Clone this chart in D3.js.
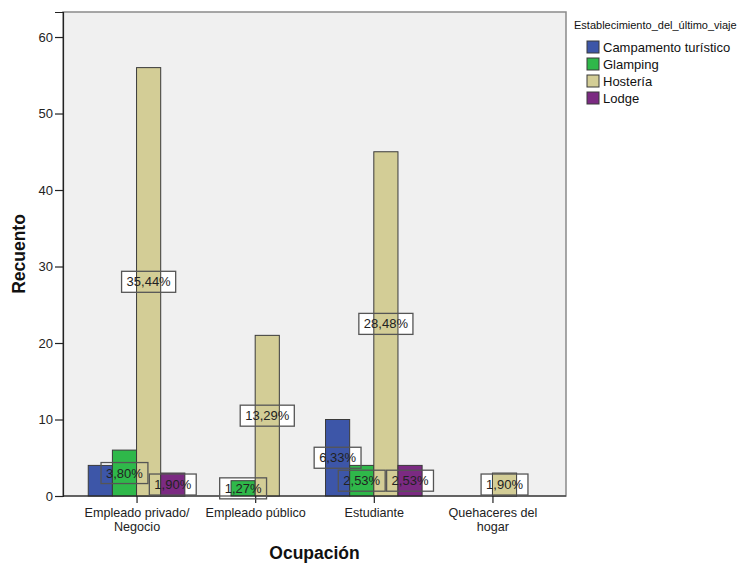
<!DOCTYPE html>
<html>
<head>
<meta charset="utf-8">
<script src="https://cdn.jsdelivr.net/npm/d3@7"></script>
<style>
  body { margin: 0; background: #fff; }
  svg { display: block; font-family: "Liberation Sans", Arial, sans-serif; }
</style>
</head>
<body>
<svg id="chart" width="741" height="568"></svg>
<script>
// ---- data ----
const categories = ["Empleado privado/ Negocio", "Empleado público", "Estudiante", "Quehaceres del hogar"];
const categoryLines = [["Empleado privado/", "Negocio"], ["Empleado público"], ["Estudiante"], ["Quehaceres del", "hogar"]];
const series = ["Campamento turístico", "Glamping", "Hostería", "Lodge"];
const campamentoCounts = [4, 0, 10, 0];
const glampingCounts   = [6, 2, 4, 0];
const hosteriaCounts   = [56, 21, 45, 3];
const lodgeCounts      = [3, 0, 4, 0];
const campamentoLabels = [null, null, "6,33%", null];
const glampingLabels   = ["3,80%", "1,27%", "2,53%", null];
const hosteriaLabels   = ["35,44%", "13,29%", "28,48%", "1,90%"];
const lodgeLabels      = ["1,90%", null, "2,53%", null];
const yTicks = [0, 10, 20, 30, 40, 50, 60];
const colors = ["#3d56a8", "#2fb84a", "#d3cd96", "#7b2a82"];
const legendTitle = "Establecimiento_del_último_viaje";
const xTitle = "Ocupación";
const yTitle = "Recuento";

const countsBySeries = [campamentoCounts, glampingCounts, hosteriaCounts, lodgeCounts];
const labelsBySeries = [campamentoLabels, glampingLabels, hosteriaLabels, lodgeLabels];

const marks = [];
series.forEach((s, si) => {
  categories.forEach((c, ci) => {
    marks.push({ series: s, si, category: c, value: countsBySeries[si][ci], label: labelsBySeries[si][ci] });
  });
});

// ---- layout ----
const plot = { left: 63, top: 12, right: 566, bottom: 496 };
const svg = d3.select("#chart");

const x = d3.scalePoint().domain(categories).range([plot.left, plot.right]).padding(0.62);
const xs = d3.scaleBand().domain(series).range([-48.3, 48.3]).padding(0);
const y = d3.scaleLinear().domain([0, 63.27]).range([plot.bottom, plot.top]);

// plot background & frame
svg.append("rect")
  .attr("x", plot.left).attr("y", plot.top)
  .attr("width", plot.right - plot.left).attr("height", plot.bottom - plot.top)
  .attr("fill", "#f0f0f0").attr("stroke", "#8a8a8a").attr("stroke-width", 1.5);

const drawn = marks.filter(d => d.value > 0);
const labeled = drawn.filter(d => d.label);
const fontSize = 13;

// measure label widths
const measure = svg.append("text").attr("font-size", fontSize).attr("visibility", "hidden");
labeled.forEach(d => { measure.text(d.label); d.tw = measure.node().getComputedTextLength(); });
measure.remove();

const boxH = 21, padX = 5;
const cx = d => x(d.category) + xs(d.series) + xs.bandwidth() / 2;
const cy = d => y(d.value / 2);

// label box fills (behind bars)
svg.append("g").selectAll("rect").data(labeled).join("rect")
  .attr("x", d => cx(d) - d.tw / 2 - padX)
  .attr("y", d => cy(d) - boxH / 2)
  .attr("width", d => d.tw + 2 * padX)
  .attr("height", boxH)
  .attr("fill", "#ffffff");

// bars
svg.append("g").selectAll("rect").data(drawn).join("rect")
  .attr("x", d => x(d.category) + xs(d.series))
  .attr("y", d => y(d.value))
  .attr("width", xs.bandwidth())
  .attr("height", d => y(0) - y(d.value))
  .attr("fill", d => colors[d.si])
  .attr("stroke", "#3a3a3a").attr("stroke-width", 1);

// axes
const yAxis = d3.axisLeft(y).tickValues(yTicks).tickSize(8).tickPadding(2);
const gy = svg.append("g").attr("transform", `translate(${plot.left},0)`).call(yAxis);
gy.select(".domain").attr("stroke", "#222").attr("stroke-width", 1.2);
gy.selectAll(".tick line").attr("stroke", "#222").attr("stroke-width", 1.2);
gy.selectAll(".tick text").attr("font-size", fontSize).attr("fill", "#222")
  .attr("font-family", "Liberation Sans, Arial, sans-serif");

const xAxis = d3.axisBottom(x).tickSize(7).tickFormat(() => "");
const gx = svg.append("g").attr("transform", `translate(0,${plot.bottom})`).call(xAxis);
gx.select(".domain").attr("d", `M${plot.left},0H${plot.right}`).attr("stroke", "#222").attr("stroke-width", 1.2);
gx.selectAll(".tick line").attr("stroke", "#222").attr("stroke-width", 1.2);
gx.selectAll(".tick").each(function(c, i) {
  const g = d3.select(this);
  categoryLines[i].forEach((line, li) => {
    g.append("text")
      .attr("x", 0).attr("y", 21 + li * 13.5)
      .attr("text-anchor", "middle").attr("font-size", 12.6).attr("fill", "#222")
      .attr("font-family", "Liberation Sans, Arial, sans-serif")
      .text(line);
  });
});

// label borders and text (on top)
const lg = svg.append("g");
lg.selectAll("rect").data(labeled).join("rect")
  .attr("x", d => cx(d) - d.tw / 2 - padX)
  .attr("y", d => cy(d) - boxH / 2)
  .attr("width", d => d.tw + 2 * padX)
  .attr("height", boxH)
  .attr("fill", "none").attr("stroke", "#555").attr("stroke-width", 1.3);
lg.selectAll("text").data(labeled).join("text")
  .attr("x", cx).attr("y", d => cy(d) + 4.6)
  .attr("text-anchor", "middle").attr("font-size", fontSize).attr("fill", "#222")
  .text(d => d.label);

// axis titles
svg.append("text").attr("x", (plot.left + plot.right) / 2).attr("y", 559)
  .attr("text-anchor", "middle").attr("font-size", 17.5).attr("font-weight", "bold").attr("fill", "#111")
  .text(xTitle);
svg.append("text").attr("transform", `translate(25,${(plot.top + plot.bottom) / 2}) rotate(-90)`)
  .attr("text-anchor", "middle").attr("font-size", 17.5).attr("font-weight", "bold").attr("fill", "#111")
  .text(yTitle);

// legend
const leg = svg.append("g");
leg.append("text").attr("x", 574).attr("y", 29).attr("font-size", 11).attr("fill", "#111").text(legendTitle);
const li = leg.selectAll("g").data(series).join("g")
  .attr("transform", (d, i) => `translate(587,${41 + i * 17})`);
li.append("rect").attr("width", 12).attr("height", 12)
  .attr("fill", (d, i) => colors[i]).attr("stroke", "#3a3a3a").attr("stroke-width", 1);
li.append("text").attr("x", 16).attr("y", 10.8).attr("font-size", fontSize).attr("fill", "#111").text(d => d);
</script>
</body>
</html>
